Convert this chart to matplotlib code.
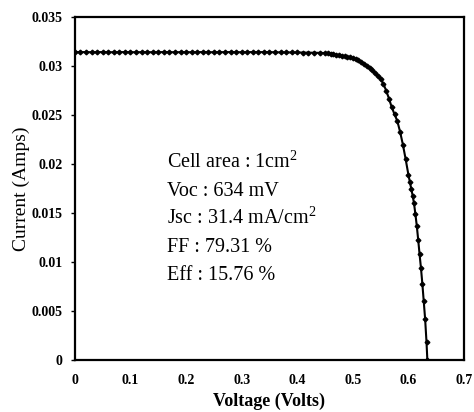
import numpy as np
import matplotlib
matplotlib.use("Agg")
import matplotlib.pyplot as plt

# measured I-V points (Volts, Amps)
voltage = [0.00, 0.01, 0.02, 0.03, 0.04, 0.05, 0.06, 0.07, 0.08, 0.09,
           0.10, 0.11, 0.12, 0.13, 0.14, 0.15, 0.16, 0.17, 0.18, 0.19,
           0.20, 0.21, 0.22, 0.23, 0.24, 0.25, 0.26, 0.27, 0.28, 0.29,
           0.30, 0.31, 0.32, 0.33, 0.34, 0.35, 0.36, 0.37, 0.38, 0.39,
           0.40, 0.41, 0.42, 0.43, 0.44, 0.45,
           0.455, 0.46, 0.465, 0.47, 0.475, 0.48, 0.485, 0.49, 0.495, 0.50,
           0.505, 0.51, 0.515, 0.52, 0.525, 0.53, 0.535, 0.54, 0.545, 0.55,
           0.555, 0.56, 0.565, 0.57, 0.575, 0.58, 0.585, 0.59, 0.595, 0.60,
           0.6025, 0.605, 0.6075, 0.61, 0.6125, 0.615, 0.6175, 0.62, 0.6225,
           0.625, 0.6275, 0.63, 0.6325, 0.634]
current = [0.03145, 0.03144, 0.03145, 0.03143, 0.03144, 0.03145, 0.03144, 0.03143, 0.03144, 0.03145,
           0.03144, 0.03143, 0.03144, 0.03144, 0.03143, 0.03144, 0.03145, 0.03144, 0.03143, 0.03144,
           0.03144, 0.03143, 0.03144, 0.03145, 0.03144, 0.03143, 0.03144, 0.03144, 0.03145, 0.03144,
           0.03143, 0.03144, 0.03145, 0.03144, 0.03145, 0.03144, 0.03143, 0.03142, 0.03142, 0.03141,
           0.03141, 0.03140, 0.03139, 0.03138, 0.03137, 0.03135,
           0.03133, 0.03128, 0.03122, 0.03117, 0.03112, 0.03107, 0.03102, 0.03096, 0.03090, 0.03084,
           0.03074, 0.03062, 0.03046, 0.03028, 0.03007, 0.02984, 0.02960, 0.02930, 0.02900, 0.02868,
           0.02820, 0.02750, 0.02670, 0.02580, 0.02510, 0.02440, 0.02330, 0.02200, 0.02050, 0.01890,
           0.01820, 0.01750, 0.01680, 0.01600, 0.01490, 0.01370, 0.01230, 0.01080, 0.00940,
           0.00780, 0.00600, 0.00420, 0.00180, 0.0]

xticks = [0, 0.1, 0.2, 0.3, 0.4, 0.5, 0.6, 0.7]
xticklabels = ["0", "0.1", "0.2", "0.3", "0.4", "0.5", "0.6", "0.7"]
yticks = [0, 0.005, 0.01, 0.015, 0.02, 0.025, 0.03, 0.035]
yticklabels = ["0", "0.005", "0.01", "0.015", "0.02", "0.025", "0.03", "0.035"]

info = ["Cell area : 1cm$^\\mathregular{2}$", "Voc : 634 mV",
        "Jsc : 31.4 mA/cm$^\\mathregular{2}$", "FF : 79.31 %", "Eff : 15.76 %"]

plt.rcParams["font.family"] = ["Liberation Serif", "DejaVu Serif"]
plt.rcParams["mathtext.fontset"] = "custom"
plt.rcParams["mathtext.rm"] = "Liberation Serif"

fig = plt.figure(figsize=(4.74, 4.12), dpi=100)
ax = fig.add_axes([0.158, 0.126, 0.821, 0.832])

ax.plot(voltage, current, color="black", lw=1.5, marker="D", markersize=2.4)

ax.set_xlim(0, 0.7)
ax.set_ylim(0, 0.035)
ax.set_xticks(xticks)
ax.set_xticklabels(xticklabels, fontsize=10, fontweight="bold")
ax.set_yticks(yticks)
ax.set_yticklabels(yticklabels, fontsize=10, fontweight="bold")
ax.tick_params(axis="y", direction="out", length=3, width=1, pad=6)
ax.tick_params(axis="x", length=0, pad=10)
for s in ax.spines.values():
    s.set_linewidth(1.6)

ax.set_xlabel("Voltage (Volts)", fontsize=13, fontweight="bold", labelpad=4)
ax.set_ylabel("Current (Amps)", fontsize=14, labelpad=1)

for i, t in enumerate(info):
    ax.text(0.165, 0.0196 - i * 0.00285, t, fontsize=14.5, va="baseline")

fig.savefig("out.png", dpi=100)
